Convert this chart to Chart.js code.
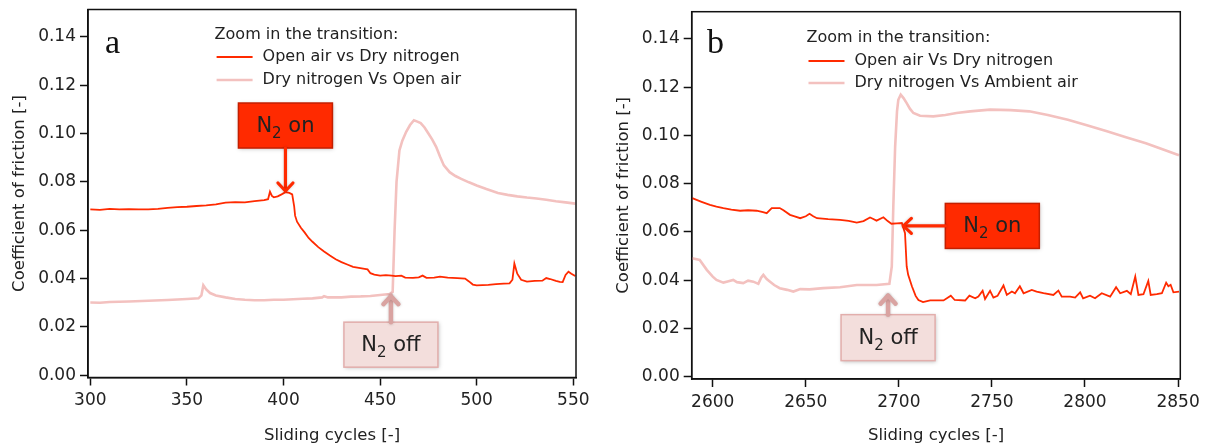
<!DOCTYPE html>
<html>
<head>
<meta charset="utf-8">
<script src="https://cdn.jsdelivr.net/npm/chart.js@4.4.1/dist/chart.umd.min.js"></script>
<style>
  html, body { margin: 0; padding: 0; background: #fff; }
  #wrap { position: relative; width: 1212px; height: 448px; }
  .panel { position: absolute; top: 0; width: 606px; height: 448px; }
</style>
</head>
<body>
<div id="wrap">
  <div class="panel" style="left:0"><canvas id="chartA" width="606" height="448"></canvas></div>
  <div class="panel" style="left:606px"><canvas id="chartB" width="606" height="448"></canvas></div>
</div>
<script>
// ---- data ----
const yTicks = [0, 0.02, 0.04, 0.06, 0.08, 0.10, 0.12, 0.14];
const xTicksA = [300, 350, 400, 450, 500, 550];
const xTicksB = [2600, 2650, 2700, 2750, 2800, 2850];

// panel a: open air -> dry nitrogen
const aOnCycles = [300, 305, 310, 315, 320, 325, 330, 335, 340, 345, 350, 355, 360, 365, 370, 375, 380, 385, 390, 392, 393, 394, 395, 397, 399, 401, 403, 404.5, 405.5, 406, 407, 409, 411, 413, 415, 418, 421, 424, 427, 430, 433, 436, 439, 442, 443.5, 445, 447, 450, 453, 456, 458, 461, 463, 467, 470, 472, 474, 478, 481, 485, 490, 494, 496, 498, 500, 503, 506, 510, 514, 517, 518.5, 519.5, 521, 523, 526, 530, 534, 536, 538, 541, 543, 544.5, 546, 547.5, 549, 551];
const aOnCof = [0.0686, 0.0684, 0.0688, 0.0686, 0.0687, 0.0686, 0.0686, 0.0688, 0.0692, 0.0695, 0.0697, 0.0700, 0.0703, 0.0707, 0.0714, 0.0716, 0.0715, 0.0720, 0.0724, 0.0728, 0.0759, 0.0742, 0.0736, 0.0740, 0.0748, 0.0757, 0.0754, 0.0748, 0.0700, 0.0660, 0.0635, 0.0610, 0.0590, 0.0568, 0.0552, 0.0530, 0.0512, 0.0495, 0.0480, 0.0468, 0.0458, 0.0448, 0.0444, 0.0440, 0.0438, 0.0422, 0.0416, 0.0412, 0.0414, 0.0412, 0.0410, 0.0412, 0.0404, 0.0403, 0.0405, 0.0412, 0.0403, 0.0404, 0.0408, 0.0404, 0.0402, 0.0400, 0.0388, 0.0375, 0.0372, 0.0373, 0.0374, 0.0377, 0.0379, 0.0380, 0.0395, 0.0462, 0.0420, 0.0395, 0.0387, 0.0390, 0.0391, 0.0402, 0.0398, 0.0390, 0.0386, 0.0385, 0.0415, 0.0428, 0.0420, 0.0410];

// panel a: dry nitrogen -> open air
const aOffCycles = [300, 305, 310, 320, 330, 340, 350, 356, 357.5, 358.5, 360, 362, 365, 370, 375, 380, 385, 390, 395, 400, 405, 410, 415, 420, 421, 423, 430, 435, 440, 445, 450, 455, 456.5, 457.5, 458.5, 460, 461.5, 463.5, 465.5, 467.5, 469, 471, 473, 475, 477, 479, 481, 483, 486, 489, 492, 496, 500, 505, 511, 516, 521, 526, 531, 536, 541, 546, 551];
const aOffCof = [0.0301, 0.0300, 0.0303, 0.0305, 0.0308, 0.0311, 0.0315, 0.0318, 0.0330, 0.0372, 0.0355, 0.0340, 0.0330, 0.0322, 0.0315, 0.0312, 0.0310, 0.0310, 0.0312, 0.0312, 0.0314, 0.0316, 0.0318, 0.0322, 0.0327, 0.0322, 0.0322, 0.0325, 0.0326, 0.0328, 0.0332, 0.0336, 0.0345, 0.0600, 0.0800, 0.0930, 0.0970, 0.1007, 0.1035, 0.1055, 0.1050, 0.1043, 0.1025, 0.1000, 0.0975, 0.0945, 0.0905, 0.0868, 0.0840, 0.0824, 0.0812, 0.0798, 0.0785, 0.0770, 0.0754, 0.0746, 0.0740, 0.0735, 0.0731, 0.0726, 0.0720, 0.0715, 0.0710];

// panel b: open air -> dry nitrogen
const bOnCycles = [2589, 2594, 2598.5, 2602, 2605.7, 2610, 2614.7, 2619, 2623.6, 2627, 2629, 2631.7, 2636, 2638, 2641.5, 2644, 2647, 2650, 2652, 2654, 2656, 2662, 2668.4, 2673, 2677.4, 2681, 2684.5, 2686, 2688, 2691.7, 2694, 2696, 2699, 2701.6, 2703.3, 2704.2, 2705, 2707, 2709, 2710.5, 2713, 2716.8, 2720, 2724, 2727.9, 2730, 2735.6, 2737.9, 2741, 2742.7, 2745, 2746.3, 2749, 2750.8, 2753, 2756.2, 2758, 2760.7, 2762.4, 2765, 2767, 2771.4, 2774, 2777.7, 2783, 2785.7, 2787.5, 2792, 2794.7, 2797.4, 2799, 2802.7, 2805.4, 2809, 2813.5, 2816.7, 2818.9, 2822.5, 2824.6, 2827, 2828.7, 2831.4, 2834, 2835.3, 2838.6, 2841.3, 2843.6, 2844.8, 2846, 2847.5, 2850.5];
const bOnCof = [0.0740, 0.0725, 0.0712, 0.0705, 0.0699, 0.0693, 0.0688, 0.0690, 0.0688, 0.0682, 0.0678, 0.0699, 0.0699, 0.0690, 0.0671, 0.0665, 0.0657, 0.0665, 0.0675, 0.0665, 0.0657, 0.0653, 0.0650, 0.0646, 0.0639, 0.0645, 0.0660, 0.0655, 0.0647, 0.0661, 0.0645, 0.0634, 0.0636, 0.0637, 0.0595, 0.0457, 0.0422, 0.0375, 0.0335, 0.0318, 0.0309, 0.0316, 0.0316, 0.0316, 0.0336, 0.0318, 0.0316, 0.0336, 0.0325, 0.0332, 0.0356, 0.0322, 0.0356, 0.0328, 0.0335, 0.0378, 0.0339, 0.0353, 0.0346, 0.0375, 0.0346, 0.0360, 0.0353, 0.0346, 0.0339, 0.0357, 0.0332, 0.0332, 0.0328, 0.0350, 0.0325, 0.0336, 0.0325, 0.0346, 0.0332, 0.0371, 0.0346, 0.0356, 0.0342, 0.0415, 0.0339, 0.0342, 0.0397, 0.0339, 0.0342, 0.0346, 0.0390, 0.0375, 0.0381, 0.0350, 0.0353];

// panel b: dry nitrogen -> ambient air
const bOffCycles = [2589, 2593, 2596.8, 2600, 2602, 2605.7, 2608, 2611, 2613, 2616.4, 2619, 2621.8, 2624.5, 2626, 2627.2, 2629, 2630.8, 2633, 2636, 2640, 2643.3, 2647, 2652, 2659.4, 2668.4, 2677.4, 2683, 2688, 2694.9, 2696.2, 2697, 2698, 2699, 2699.7, 2701, 2702.5, 2704.2, 2706, 2707.8, 2711.4, 2718.5, 2725, 2731, 2738.3, 2749, 2760, 2770, 2780, 2790.8, 2801, 2811.8, 2822, 2832.7, 2842, 2850.5];
const bOffCof = [0.0491, 0.0484, 0.0443, 0.0415, 0.0401, 0.0390, 0.0395, 0.0401, 0.0392, 0.0388, 0.0398, 0.0394, 0.0385, 0.0410, 0.0422, 0.0405, 0.0394, 0.0380, 0.0367, 0.0360, 0.0353, 0.0363, 0.0362, 0.0367, 0.0371, 0.0380, 0.0380, 0.0380, 0.0385, 0.0457, 0.0700, 0.0954, 0.1100, 0.1148, 0.1169, 0.1155, 0.1134, 0.1110, 0.1093, 0.1082, 0.1079, 0.1085, 0.1093, 0.1100, 0.1107, 0.1105, 0.1100, 0.1085, 0.1065, 0.1042, 0.1017, 0.0993, 0.0968, 0.0942, 0.0918];

// ---- styling ----
const FONT = '"DejaVu Sans", sans-serif';
const RED = '#ff2a00';
const PINK = '#f3c1bf';
const INK = '#222';

function pts(xs, ys) {
  return xs.map((x, i) => ({ x: x, y: ys[i] }));
}

function arrowHead(ctx, tx, ty, ang, size) {
  ctx.beginPath();
  ctx.moveTo(tx + size * Math.cos(ang + 0.75), ty + size * Math.sin(ang + 0.75));
  ctx.lineTo(tx, ty);
  ctx.lineTo(tx + size * Math.cos(ang - 0.75), ty + size * Math.sin(ang - 0.75));
  ctx.stroke();
}

function drawN2(ctx, cx, cy, word) {
  const big = '21px ' + FONT, small = '15px ' + FONT;
  ctx.font = big;
  const wN = ctx.measureText('N').width;
  const wW = ctx.measureText(' ' + word).width;
  ctx.font = small;
  const w2 = ctx.measureText('2').width;
  let x = cx - (wN + w2 + wW) / 2;
  ctx.textAlign = 'left';
  ctx.textBaseline = 'alphabetic';
  ctx.fillStyle = INK;
  ctx.font = big; ctx.fillText('N', x, cy + 6); x += wN;
  ctx.font = small; ctx.fillText('2', x, cy + 12); x += w2;
  ctx.font = big; ctx.fillText(' ' + word, x, cy + 6);
}

// frame, legend, panel letter and N2 notes
const decor = {
  id: 'decor',
  afterDraw(chart, args, o) {
    const ctx = chart.ctx;
    const ca = chart.chartArea;
    const xs = chart.scales.x, ys = chart.scales.y;
    ctx.save();
    ctx.strokeStyle = '#111';
    ctx.lineWidth = 1.5;
    ctx.strokeRect(ca.left, ca.top, ca.right - ca.left, ca.bottom - ca.top);

    // panel letter
    ctx.fillStyle = '#111';
    ctx.font = '34px "Liberation Serif", serif';
    ctx.textAlign = 'left';
    ctx.textBaseline = 'alphabetic';
    ctx.fillText(o.letter, o.letterX, o.letterY);

    // legend
    const lg = o.legend;
    ctx.font = '16px ' + FONT;
    ctx.fillStyle = INK;
    ctx.textBaseline = 'middle';
    ctx.fillText('Zoom in the transition:', lg.x, lg.titleY);
    chart.data.datasets.forEach((ds, i) => {
      const y = lg.rows[i];
      ctx.strokeStyle = ds.borderColor;
      ctx.lineWidth = ds.borderWidth;
      ctx.beginPath();
      ctx.moveTo(lg.x + 2, y);
      ctx.lineTo(lg.x + 38, y);
      ctx.stroke();
      ctx.fillStyle = INK;
      ctx.fillText(ds.label, lg.x + 48, y);
    });

    // N2 notes, anchored at data points
    o.notes.forEach(n => {
      const tx = xs.getPixelForValue(n.x);
      const ty = ys.getPixelForValue(n.y);
      let bx, by;
      if (n.dir === 'down') { bx = tx - n.w / 2; by = ty - n.len - n.h; }
      else if (n.dir === 'up') { bx = tx - n.w / 2; by = ty + n.len; }
      else { bx = tx + n.len; by = ty - n.h / 2; }
      ctx.save();
      ctx.shadowColor = 'rgba(0,0,0,0.25)';
      ctx.shadowBlur = 4;
      ctx.shadowOffsetX = 1;
      ctx.shadowOffsetY = 1;
      ctx.fillStyle = n.fill;
      ctx.fillRect(bx, by, n.w, n.h);
      ctx.shadowColor = 'transparent';
      ctx.strokeStyle = n.edge;
      ctx.lineWidth = 1.5;
      ctx.strokeRect(bx, by, n.w, n.h);
      ctx.restore();

      ctx.save();
      ctx.strokeStyle = n.arrow;
      ctx.lineWidth = n.lw;
      ctx.lineCap = 'round';
      ctx.lineJoin = 'round';
      ctx.shadowColor = 'rgba(0,0,0,0.2)';
      ctx.shadowBlur = 3;
      let sx, sy, ang;
      if (n.dir === 'down') { sx = tx; sy = by + n.h; ang = -Math.PI / 2; }
      else if (n.dir === 'up') { sx = tx; sy = by; ang = Math.PI / 2; }
      else { sx = bx; sy = ty; ang = 0; }
      ctx.beginPath();
      ctx.moveTo(sx, sy);
      ctx.lineTo(tx, ty);
      ctx.stroke();
      arrowHead(ctx, tx, ty, ang, 11);
      ctx.restore();

      drawN2(ctx, bx + n.w / 2, by + n.h / 2, n.word);
    });
    ctx.restore();
  }
};

function makeChart(id, c) {
  return new Chart(document.getElementById(id), {
    type: 'line',
    data: {
      datasets: [
        { label: c.onLabel, data: pts(c.onX, c.onY), borderColor: RED, borderWidth: 1.8, pointRadius: 0, tension: 0 },
        { label: c.offLabel, data: pts(c.offX, c.offY), borderColor: PINK, borderWidth: 2.6, pointRadius: 0, tension: 0 }
      ]
    },
    options: {
      responsive: false,
      animation: false,
      layout: { padding: { left: 0, right: c.padRight, top: c.padTop, bottom: 0 } },
      plugins: { legend: { display: false }, tooltip: { enabled: false }, decor: c.decor },
      scales: {
        x: {
          type: 'linear',
          min: c.xMin, max: c.xMax,
          afterBuildTicks: s => { s.ticks = c.xTicks.map(v => ({ value: v })); },
          afterFit: s => { s.height = c.xHeight; s.paddingLeft = 0; s.paddingRight = 0; },
          ticks: { color: INK, font: { family: FONT, size: 17 }, padding: 5, maxRotation: 0, callback: v => String(v) },
          grid: { drawOnChartArea: false, drawTicks: true, tickLength: 8, tickColor: '#111', tickWidth: 1.5 },
          border: { display: true, color: '#111', width: 1.5 },
          title: { display: true, text: 'Sliding cycles [-]', color: INK, font: { family: FONT, size: 16.5 }, padding: { top: 0, bottom: 2 } }
        },
        y: {
          min: -0.00095, max: 0.1513,
          afterBuildTicks: s => { s.ticks = yTicks.map(v => ({ value: v })); },
          afterFit: s => { s.width = c.yWidth; s.paddingTop = 0; s.paddingBottom = 0; },
          ticks: { color: INK, font: { family: FONT, size: 17 }, padding: 4, callback: v => v.toFixed(2) },
          grid: { drawOnChartArea: false, drawTicks: true, tickLength: 8, tickColor: '#111', tickWidth: 1.5 },
          border: { display: true, color: '#111', width: 1.5 },
          title: { display: true, text: 'Coefficient of friction [-]', color: INK, font: { family: FONT, size: 16.5 }, padding: { top: c.yTitlePad, bottom: 0 } }
        }
      }
    },
    plugins: [decor]
  });
}

makeChart('chartA', {
  onLabel: 'Open air vs Dry nitrogen', offLabel: 'Dry nitrogen Vs Open air',
  onX: aOnCycles, onY: aOnCof, offX: aOffCycles, offY: aOffCof,
  xMin: 298.8, xMax: 551.4, xTicks: xTicksA,
  padRight: 30, padTop: 9.5, yWidth: 88, xHeight: 70.5, yTitlePad: 10,
  decor: {
    letter: 'a', letterX: 105, letterY: 53,
    legend: { x: 214.6, titleY: 35, rows: [57, 80] },
    notes: [
      { x: 401, y: 0.0762, dir: 'down', len: 43, w: 94, h: 45, word: 'on', fill: '#ff2a00', edge: '#c41f00', arrow: RED, lw: 3.2 },
      { x: 455.6, y: 0.0327, dir: 'up', len: 26, w: 94, h: 45, word: 'off', fill: '#f3dedc', edge: '#e2aeac', arrow: '#d9a3a1', lw: 4.5 }
    ]
  }
});

makeChart('chartB', {
  onLabel: 'Open air Vs Dry nitrogen', offLabel: 'Dry nitrogen Vs Ambient air',
  onX: bOnCycles, onY: bOnCof, offX: bOffCycles, offY: bOffCof,
  xMin: 2588.7, xMax: 2851.2, xTicks: xTicksB,
  padRight: 31.7, padTop: 11.7, yWidth: 85.7, xHeight: 69, yTitlePad: 8,
  decor: {
    letter: 'b', letterX: 101, letterY: 53,
    legend: { x: 200.5, titleY: 38, rows: [61, 83] },
    notes: [
      { x: 2702.4, y: 0.0625, dir: 'left', len: 42, w: 94, h: 45, word: 'on', fill: '#ff2a00', edge: '#c41f00', arrow: RED, lw: 3.2 },
      { x: 2694.2, y: 0.0336, dir: 'up', len: 19, w: 94, h: 46, word: 'off', fill: '#f3dedc', edge: '#e2aeac', arrow: '#d9a3a1', lw: 4.5 }
    ]
  }
});
</script>
</body>
</html>
